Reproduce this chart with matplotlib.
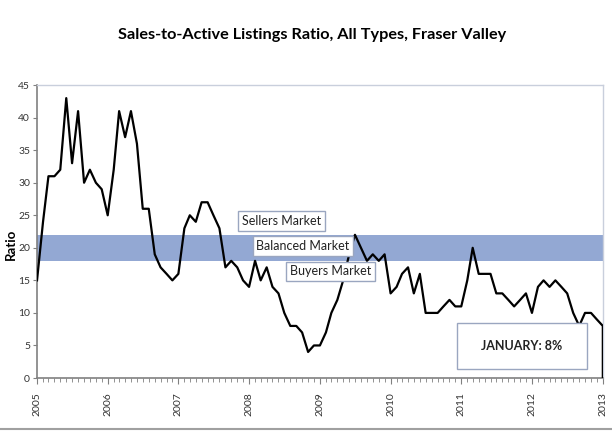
import matplotlib
matplotlib.use('Agg')
import matplotlib.pyplot as plt
import matplotlib.dates as mdates
from matplotlib.patches import Rectangle
from matplotlib.lines import Line2D
import pandas as pd

plt.rcParams['font.family'] = ['Lato', 'DejaVu Sans']

# Monthly sales-to-active listings ratio, Jan 2005 .. Jan 2013
ratio = [15, 24, 31, 31, 32, 43, 33, 41, 30, 32, 30, 29,   # 2005
         25, 32, 41, 37, 41, 36, 26, 26, 19, 17, 16, 15,   # 2006
         16, 23, 25, 24, 27, 27, 25, 23, 17, 18, 17, 15,   # 2007
         14, 18, 15, 17, 14, 13, 10, 8, 8, 7, 4, 5,        # 2008
         5, 7, 10, 12, 15, 19, 22, 20, 18, 19, 18, 19,     # 2009
         13, 14, 16, 17, 13, 16, 10, 10, 10, 11, 12, 11,   # 2010
         11, 15, 20, 16, 16, 16, 13, 13, 12, 11, 12, 13,   # 2011
         10, 14, 15, 14, 15, 14, 13, 10, 8, 10, 10, 9,     # 2012
         8,                                                # Jan 2013
         0]                                                # blank cell read as zero
months = list(pd.date_range('2005-01-01', '2013-01-01', freq='MS'))
months.append(months[-1])

band_low, band_high = 18, 22
zone_labels = ['Sellers Market', 'Balanced Market', 'Buyers Market']
zone_dates = ['2008-06-15', '2008-10-05', '2009-02-25']
zone_levels = [24.1, 20.3, 16.4]
callout = 'JANUARY: 8%'

fig = plt.figure(figsize=(6.12, 4.32), dpi=100)
ax = fig.add_axes([0.0605, 0.125, 0.9245, 0.678])

ax.axhspan(band_low, band_high, color='#93a8d3', lw=0, zorder=1)
ax.plot(months, ratio, color='black', lw=1.6, zorder=3)

ax.set_xlim(pd.Timestamp('2005-01-01'), pd.Timestamp('2013-01-01'))
ax.set_ylim(0, 45)
ax.set_yticks(range(0, 46, 5))
ax.xaxis.set_major_locator(mdates.YearLocator())
ax.xaxis.set_major_formatter(mdates.DateFormatter('%Y'))
ax.xaxis.set_minor_locator(mdates.MonthLocator())
ax.tick_params(axis='x', which='major', labelrotation=90, labelsize=7.5,
               length=4, color='#808080', labelcolor='#333333', pad=6)
ax.tick_params(axis='x', which='minor', length=3, color='#808080')
ax.tick_params(axis='y', labelsize=7.5, length=3, color='#808080',
               labelcolor='#333333', pad=2)

for side in ['left', 'bottom']:
    ax.spines[side].set_color('#808080')
    ax.spines[side].set_linewidth(1.2)
for side in ['top', 'right']:
    ax.spines[side].set_color('#c9cfdc')
    ax.spines[side].set_linewidth(1)

ax.set_ylabel('Ratio', fontsize=9.5, fontweight='bold')
ax.yaxis.set_label_coords(-0.036, 0.455)
fig.text(0.51, 0.918, 'Sales-to-Active Listings Ratio, All Types, Fraser Valley',
         ha='center', va='center', fontsize=11.7, fontweight='bold')

for label, d, lvl in zip(zone_labels, zone_dates, zone_levels):
    ax.text(pd.Timestamp(d), lvl, label, ha='center', va='center', fontsize=9,
            color='#222222', zorder=5,
            bbox=dict(boxstyle='square,pad=0.3', fc='white', ec='#9aa6c0', lw=1))

ax.add_patch(Rectangle((0.742, 0.031), 0.23, 0.157, transform=ax.transAxes,
                       fc='white', ec='#9aa6c0', lw=1, zorder=4))
ax.text(0.857, 0.11, callout, transform=ax.transAxes, ha='center', va='center',
        fontsize=9, fontweight='bold', color='#222222', zorder=5)

fig.add_artist(Line2D([0, 1], [0.007, 0.007], color='#a0a0a0', lw=1.5))

fig.savefig('out.png', dpi=100)
